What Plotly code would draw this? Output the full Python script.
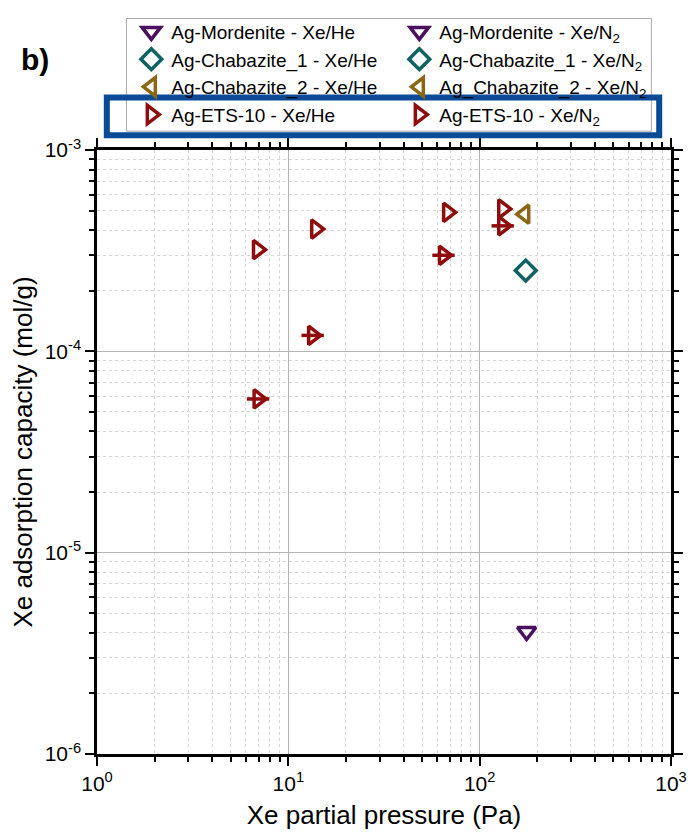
import plotly.graph_objects as go

# ---- data ----
series_names = [
    "Ag-Mordenite - Xe/He", "Ag-Mordenite - Xe/N<sub>2</sub>",
    "Ag-Chabazite_1 - Xe/He", "Ag-Chabazite_1 - Xe/N<sub>2</sub>",
    "Ag-Chabazite_2 - Xe/He", "Ag_Chabazite_2 - Xe/N<sub>2</sub>",
    "Ag-ETS-10 - Xe/He", "Ag-ETS-10 - Xe/N<sub>2</sub>",
]
mord_he_x = [176]
mord_he_y = [4.06e-6]
mord_n2_x = [None]
mord_n2_y = [None]
chab1_he_x = [174]
chab1_he_y = [2.52e-4]
chab1_n2_x = [None]
chab1_n2_y = [None]
chab2_he_x = [172]
chab2_he_y = [4.8e-4]
chab2_n2_x = [None]
chab2_n2_y = [None]
ets_he_x = [6.9, 13.9, 68, 132]
ets_he_y = [3.2e-4, 4.05e-4, 4.9e-4, 5.1e-4]
ets_n2_x = [6.95, 13.4, 64.7, 132]
ets_n2_y = [5.8e-5, 1.2e-4, 3.0e-4, 4.2e-4]

x_tickvals = [1, 10, 100, 1000]
x_ticktext = ["10<sup>0</sup>", "10<sup>1</sup>", "10<sup>2</sup>", "10<sup>3</sup>"]
y_tickvals = [1e-6, 1e-5, 1e-4, 1e-3]
y_ticktext = ["10<sup>-6</sup>", "10<sup>-5</sup>", "10<sup>-4</sup>", "10<sup>-3</sup>"]
minor_mult = [2, 3, 4, 5, 6, 7, 8, 9]
x_minor = [m * 10 ** e for e in range(0, 3) for m in minor_mult]
y_minor = [m * 10.0 ** e for e in range(-6, -3) for m in minor_mult]

PURPLE = "#4b0f5f"
TEAL = "#0e6262"
BROWN = "#8a6717"
RED = "#8e0c0c"

FONT = "Arial, Liberation Sans, sans-serif"

series = [
    (mord_he_x, mord_he_y, "triangle-down-open", PURPLE, False),
    (mord_n2_x, mord_n2_y, "triangle-down-open", PURPLE, True),
    (chab1_he_x, chab1_he_y, "diamond-open", TEAL, False),
    (chab1_n2_x, chab1_n2_y, "diamond-open", TEAL, True),
    (chab2_he_x, chab2_he_y, "triangle-left-open", BROWN, False),
    (chab2_n2_x, chab2_n2_y, "triangle-left-open", BROWN, True),
    (ets_he_x, ets_he_y, "triangle-right-open", RED, False),
    (ets_n2_x, ets_n2_y, "triangle-right-open", RED, True),
]

fig = go.Figure()
for name, (xs, ys, sym, col, n2) in zip(series_names, series):
    fig.add_trace(go.Scatter(
        x=xs, y=ys, mode="markers", name=name,
        marker=dict(symbol=sym, size=16, color=col, line=dict(width=3.5, color=col)),
    ))
# horizontal dash through the Xe/N2 markers
for name, (xs, ys, sym, col, n2) in zip(series_names, series):
    if n2:
        fig.add_trace(go.Scatter(
            x=xs, y=ys, mode="markers", showlegend=False, hoverinfo="skip",
            marker=dict(symbol="line-ew-open", size=16, color=col, line=dict(width=3.5, color=col)),
        ))

axis_common = dict(
    type="log",
    showline=True, linecolor="black", linewidth=2.5, mirror="ticks",
    ticks="outside", ticklen=9, tickwidth=2, tickcolor="black",
    showgrid=True, gridcolor="#b4b4b4", gridwidth=1,
    tickfont=dict(family=FONT, size=21, color="black"),
    zeroline=False,
)

fig.update_xaxes(
    **axis_common,
    range=[0, 3],
    tickvals=x_tickvals, ticktext=x_ticktext,
    minor=dict(tickmode="array", tickvals=x_minor, ticks="outside", ticklen=5, tickwidth=2,
               tickcolor="black", showgrid=True, gridcolor="#d6d6d6", griddash="dot", gridwidth=1),
    title=dict(text="Xe partial pressure (Pa)", font=dict(family=FONT, size=26, color="black"), standoff=12),
)
fig.update_yaxes(
    **axis_common,
    range=[-6, -3],
    tickvals=y_tickvals, ticktext=y_ticktext,
    minor=dict(tickmode="array", tickvals=y_minor, ticks="outside", ticklen=5, tickwidth=2,
               tickcolor="black", showgrid=True, gridcolor="#d6d6d6", griddash="dot", gridwidth=1),
    title=dict(text="Xe adsorption capacity (mol/g)", font=dict(family=FONT, size=26, color="black"), standoff=5),
)

L, R, T, B = 97, 17, 143, 84
W, H = 699, 838
pw, ph = W - L - R, H - T - B

def px_to_paper(px, py):
    return (px - L) / pw, (H - B - py) / ph

# legend frame
fx0, fy0 = px_to_paper(127, 124)
fx1, fy1 = px_to_paper(662, 10)
fig.add_shape(type="rect", xref="paper", yref="paper", x0=fx0, y0=fy0, x1=fx1, y1=fy1,
              line=dict(color="#a8a8a8", width=1), fillcolor="white", layer="above")
# highlight box around the ETS-10 row
x0, y0 = px_to_paper(107, 128)
x1, y1 = px_to_paper(670, 90)
fig.add_shape(type="rect", xref="paper", yref="paper", x0=x0, y0=y0, x1=x1, y1=y1,
              line=dict(color="#0b4a96", width=6), fillcolor="rgba(0,0,0,0)", layer="above")

bx, by = px_to_paper(17, 51)
fig.add_annotation(text="<b>b)</b>", xref="paper", yref="paper", x=bx, y=by,
                   xanchor="left", yanchor="middle", showarrow=False,
                   font=dict(family=FONT, size=30, color="black"))

lx, ly = px_to_paper(132, 4)
fig.update_layout(
    width=W, height=H,
    margin=dict(l=L, r=R, t=T, b=B),
    paper_bgcolor="white", plot_bgcolor="white",
    font=dict(family=FONT, color="black"),
    legend=dict(
        orientation="h", x=lx, y=ly, xanchor="left", yanchor="top",
        entrywidth=223, entrywidthmode="pixels",
        font=dict(family=FONT, size=19, color="black"),
        borderwidth=0, bgcolor="rgba(0,0,0,0)",
        itemwidth=30,
    ),
)

fig.write_html("out.html")
